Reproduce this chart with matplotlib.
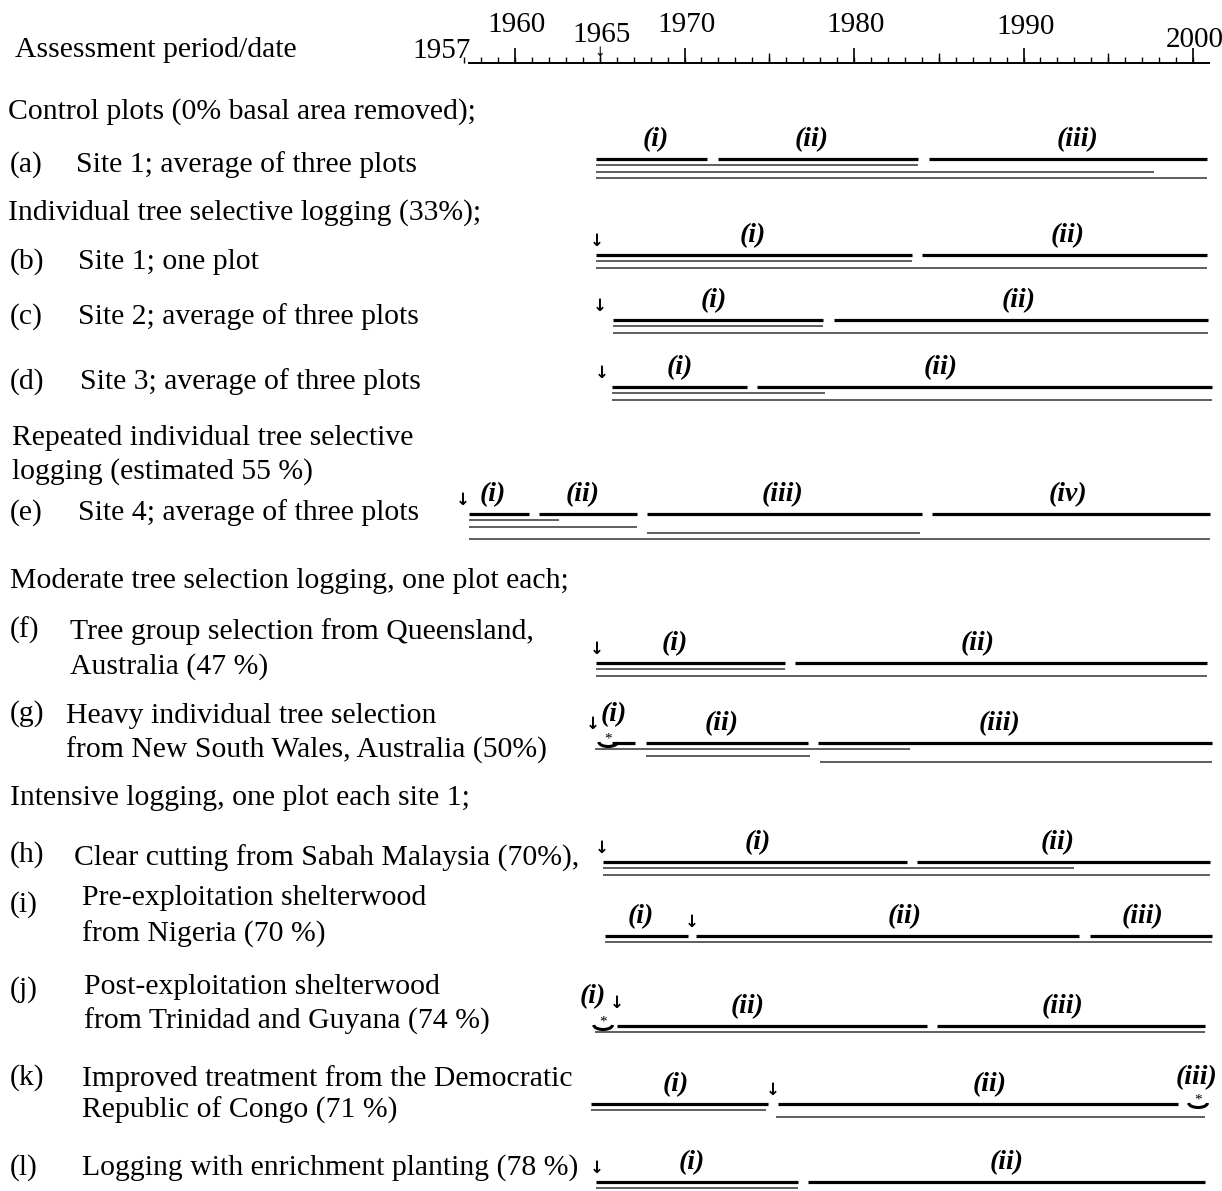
import matplotlib.pyplot as plt
from matplotlib.patches import Arc

# ---- data (years) ----
major_years = [1960, 1970, 1980, 1990, 2000]
mid_years = [1965, 1975, 1985, 1995]
minor_years = list(range(1957, 2001))
axis_start, axis_end = 1957.2, 2001.0

# segments: (start year, end year, line level) level 0 = thick line
seg_a = [(1964.8, 1971.3, 0), (1972.0, 1983.8, 0), (1984.4, 2000.8, 0),
         (1964.8, 1983.8, 1), (1964.8, 1997.7, 2), (1964.8, 2000.8, 3)]
seg_b = [(1964.8, 1983.4, 0), (1984.0, 2000.8, 0),
         (1964.8, 1983.4, 1), (1964.8, 2000.8, 2)]
seg_c = [(1965.8, 1978.2, 0), (1978.8, 2000.9, 0),
         (1965.8, 1978.2, 1), (1965.8, 2000.9, 2)]
seg_d = [(1965.7, 1973.7, 0), (1974.3, 2001.1, 0),
         (1965.7, 1978.3, 1), (1965.7, 2001.1, 2)]
seg_e = [(1957.3, 1960.8, 0), (1961.4, 1967.2, 0), (1967.8, 1984.0, 0), (1984.6, 2001.0, 0),
         (1957.3, 1962.6, 1), (1957.3, 1967.2, 2), (1967.8, 1983.9, 3), (1957.3, 2001.0, 4)]
seg_f = [(1964.8, 1975.9, 0), (1976.5, 2000.8, 0),
         (1964.8, 1975.9, 1), (1964.8, 2000.8, 2)]
seg_g = [(1965.7, 1967.1, 0), (1967.7, 1977.3, 0), (1977.9, 2001.1, 0),
         (1964.7, 1983.3, 1), (1967.7, 1977.4, 2), (1978.0, 2001.1, 3)]
seg_h = [(1965.2, 1983.1, 0), (1983.7, 2001.0, 0),
         (1965.2, 1993.0, 1), (1965.2, 2001.0, 2)]
seg_i = [(1965.3, 1970.2, 0), (1970.7, 1993.3, 0), (1993.9, 2001.1, 0),
         (1965.3, 2001.1, 1)]
seg_j = [(1966.0, 1984.3, 0), (1984.9, 2000.7, 0),
         (1964.7, 2000.7, 1)]
seg_k = [(1964.5, 1974.9, 0), (1975.5, 1999.1, 0),
         (1964.5, 1974.8, 1), (1975.4, 2000.7, 2)]
seg_l = [(1964.8, 1976.7, 0), (1977.3, 2000.7, 0),
         (1964.8, 1976.7, 1)]

# period labels (year position, label)
lab_a = [(1968.3, '(i)'), (1977.5, '(ii)'), (1993.2, '(iii)')]
lab_b = [(1974.0, '(i)'), (1992.6, '(ii)')]
lab_c = [(1971.7, '(i)'), (1989.7, '(ii)')]
lab_d = [(1969.7, '(i)'), (1985.1, '(ii)')]
lab_e = [(1958.7, '(i)'), (1964.0, '(ii)'), (1975.8, '(iii)'), (1992.6, '(iv)')]
lab_f = [(1969.4, '(i)'), (1987.3, '(ii)')]
lab_g = [(1965.8, '(i)'), (1972.2, '(ii)'), (1988.6, '(iii)')]
lab_h = [(1974.3, '(i)'), (1992.0, '(ii)')]
lab_i = [(1967.4, '(i)'), (1983.0, '(ii)'), (1997.0, '(iii)')]
lab_j = [(1964.6, '(i)'), (1973.7, '(ii)'), (1992.3, '(iii)')]
lab_k = [(1969.5, '(i)'), (1988.0, '(ii)'), (2000.2, '(iii)')]
lab_l = [(1970.4, '(i)'), (1989.0, '(ii)')]

# logging dates (arrows) and short measurement marks (*)
arrow_years = {'b': 1964.8, 'c': 1965.0, 'd': 1965.1, 'e': 1956.9, 'f': 1964.8,
               'g': 1964.6, 'h': 1965.1, 'i': 1970.4, 'j': 1966.0, 'k': 1975.2, 'l': 1964.8}
star_years = {'g': 1965.5, 'j': 1965.2, 'k': 2000.3}

rows = ['a', 'b', 'c', 'd', 'e', 'f', 'g', 'h', 'i', 'j', 'k', 'l']
segments = [seg_a, seg_b, seg_c, seg_d, seg_e, seg_f, seg_g, seg_h, seg_i, seg_j, seg_k, seg_l]
labels = [lab_a, lab_b, lab_c, lab_d, lab_e, lab_f, lab_g, lab_h, lab_i, lab_j, lab_k, lab_l]

# ---- layout (pixels) ----
W, H = 1222, 1191
row_y = [159, 255, 320, 387, 514, 663, 743, 862, 936, 1026, 1104, 1182]
gap = 6.3
axis_y = 63
px_per_year = 16.95
x1960 = 515
# labels sitting higher than the rest (row, label index): extra pixels up
label_up = {('g', 0): 9, ('j', 0): 10, ('k', 2): 7}
arrow_up = {'j': 9, 'g': 5}

serif = 'Liberation Serif'
fs = 21.4

fig = plt.figure(figsize=(W / 100, H / 100), dpi=100)
ax = fig.add_axes([0, 0, 1, 1])
ax.set_xlim(1960 - x1960 / px_per_year, 1960 + (W - x1960) / px_per_year)
ax.set_ylim(H, 0)
ax.axis('off')

tax = fig.add_axes([0, 0, 1, 1])
tax.set_xlim(0, W)
tax.set_ylim(H, 0)
tax.axis('off')

# time axis
ax.hlines(axis_y, axis_start, axis_end, color='black', lw=1.4)
ax.vlines(minor_years, axis_y - 6, axis_y, color='black', lw=1.0)
ax.vlines(mid_years, axis_y - 10, axis_y, color='black', lw=1.0)
ax.vlines(major_years, axis_y - 15, axis_y, color='black', lw=1.2)
ax.text(1957.4, 51, '1957', ha='right', va='center', family=serif, fontsize=21)
year_lab_y = {1960: 25, 1965: 35, 1970: 25, 1980: 25, 1990: 27, 2000: 40}
for yr, yy in year_lab_y.items():
    ax.text(yr + 0.1, yy, str(yr), ha='center', va='center', family=serif, fontsize=21)
ax.text(1965, 53, '↓', ha='center', va='center', family='DejaVu Sans', fontsize=9)

# rows of lines
for key, y0, segs, labs in zip(rows, row_y, segments, labels):
    for s, e, lev in segs:
        if lev == 0:
            ax.hlines(y0, s, e, color='black', lw=2.3)
        else:
            ax.hlines(y0 + lev * gap, s, e, color='#333333', lw=1.1)
    for n, (x, t) in enumerate(labs):
        dy = label_up.get((key, n), 0)
        ax.text(x, y0 - 19 - dy, t, ha='center', va='center', family=serif,
                fontsize=20, fontweight='bold', fontstyle='italic')
    if key in arrow_years:
        ax.text(arrow_years[key], y0 - 14 - arrow_up.get(key, 0), '↓', ha='center', va='center',
                family='DejaVu Sans', fontsize=12, fontweight='bold')
    if key in star_years:
        xs = star_years[key]
        ax.add_patch(Arc((xs, y0 - 1), 1.1, 9, theta1=0, theta2=180, color='black', lw=2.2))
        ax.text(xs, y0 - 4, '*', ha='center', va='center', family=serif, fontsize=11)

# left-hand text
left_text = [
    (15, 50, 'Assessment period/date'),
    (8, 112, 'Control plots (0% basal area removed);'),
    (10, 165, '(a)'), (76, 165, 'Site 1; average of three plots'),
    (8, 213, 'Individual tree selective logging (33%);'),
    (10, 262, '(b)'), (78, 262, 'Site 1; one plot'),
    (10, 317, '(c)'), (78, 317, 'Site 2; average of three plots'),
    (10, 382, '(d)'), (80, 382, 'Site 3; average of three plots'),
    (12, 438, 'Repeated individual tree selective'),
    (12, 472, 'logging (estimated 55 %)'),
    (10, 513, '(e)'), (78, 513, 'Site 4; average of three plots'),
    (10, 581, 'Moderate tree selection logging, one plot each;'),
    (10, 630, '(f)'), (70, 632, 'Tree group selection from Queensland,'),
    (70, 667, 'Australia (47 %)'),
    (10, 714, '(g)'), (66, 716, 'Heavy individual tree selection'),
    (66, 750, 'from New South Wales, Australia (50%)'),
    (10, 798, 'Intensive logging, one plot each site 1;'),
    (10, 855, '(h)'), (74, 858, 'Clear cutting from Sabah Malaysia (70%),'),
    (10, 905, '(i)'), (82, 898, 'Pre-exploitation shelterwood'),
    (82, 934, 'from Nigeria (70 %)'),
    (10, 990, '(j)'), (84, 987, 'Post-exploitation shelterwood'),
    (84, 1021, 'from Trinidad and Guyana (74 %)'),
    (10, 1078, '(k)'), (82, 1079, 'Improved treatment from the Democratic'),
    (82, 1110, 'Republic of Congo (71 %)'),
    (10, 1168, '(l)'), (82, 1168, 'Logging with enrichment planting (78 %)'),
]
for x, y, t in left_text:
    tax.text(x, y, t, ha='left', va='center', family=serif, fontsize=fs)

fig.savefig('out.png', dpi=100, facecolor='white')
